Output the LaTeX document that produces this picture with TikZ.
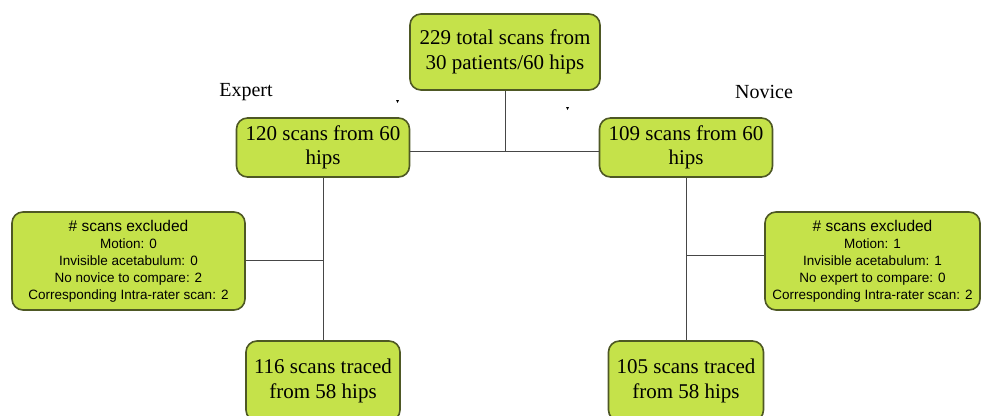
\documentclass[tikz,border=0pt]{standalone}
\usepackage{fontspec}
\setmainfont{Liberation Serif}
\newfontfamily\arialf{Liberation Sans}
\definecolor{boxfill}{RGB}{197,226,74}
\definecolor{boxedge}{RGB}{78,88,36}
\definecolor{linec}{RGB}{70,70,70}
\begin{document}
\begin{tikzpicture}[x=1pt,y=-1pt,
  gbox/.style={draw=boxedge,line width=1.6pt,fill=boxfill,rounded corners=11pt,
    inner sep=0pt,align=center,text=black},
  serifbig/.style={font=\fontsize{21}{24.5}\selectfont},
  sansbox/.style={font=\arialf\fontsize{13.5}{17}\selectfont},
  conn/.style={draw=linec,line width=1pt},
  lbl/.style={font=\fontsize{20}{24}\selectfont,inner sep=0pt}]
\useasboundingbox (0,0) rectangle (982,415);
\clip (0,0) rectangle (982,415);

\node[gbox,serifbig,minimum width=190pt,minimum height=76pt] (top) at (505,52)
  {229 total scans from\\30 patients/60 hips};
\node[gbox,serifbig,minimum width=173pt,minimum height=59pt] (exp) at (323,147.5)
  {120 scans from 60\\hips};
\node[gbox,serifbig,minimum width=173pt,minimum height=59pt] (nov) at (686,147.5)
  {109 scans from 60\\hips};
\node[gbox,sansbox,minimum width=233pt,minimum height=98pt] (lx) at (128.5,261)
  {{\fontsize{15.5}{17}\selectfont \# scans excluded}\\Motion: 0\\Invisible acetabulum: 0\\No novice to compare: 2\\Corresponding Intra-rater scan: 2};
\node[gbox,sansbox,minimum width=215pt,minimum height=98pt] (rx) at (872.5,261)
  {{\fontsize{15.5}{17}\selectfont \# scans excluded}\\Motion: 1\\Invisible acetabulum: 1\\No expert to compare: 0\\Corresponding Intra-rater scan: 2};
\node[gbox,serifbig,minimum width=154pt,minimum height=80pt] (bl) at (323,381)
  {116 scans traced\\from 58 hips};
\node[gbox,serifbig,minimum width=155pt,minimum height=80pt] (br) at (686,381)
  {105 scans traced\\from 58 hips};

\node[lbl] (lexp) at (246,92) {Expert};
\node[lbl] (lnov) at (764,92) {Novice};

\coordinate (j) at (505,151);
\coordinate (ej) at (323,260);
\coordinate (nj) at (686,255);

\draw[conn] (top.south) -- (j);
\draw[conn] (exp.east |- j) -- (nov.west |- j);
\draw[conn] (exp.south) -- (bl.north);
\draw[conn] (nov.south) -- (br.north);
\draw[conn] (lx.east |- ej) -- (ej);
\draw[conn] (rx.west |- nj) -- (nj);

\fill[black] (396,100) -- (399,100) -- (397.5,103) -- cycle;
\fill[black] (566,107) -- (569,107) -- (567.5,110) -- cycle;
\end{tikzpicture}
\end{document}
